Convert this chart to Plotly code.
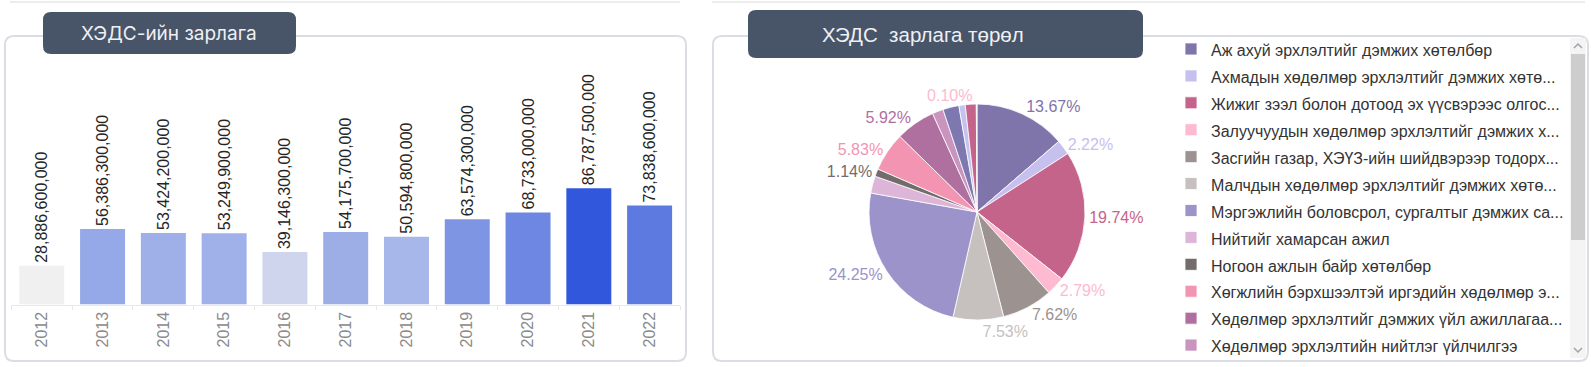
import plotly.graph_objects as go

# ---------------- data ----------------
years = ["2012", "2013", "2014", "2015", "2016", "2017", "2018", "2019", "2020", "2021", "2022"]
spend = [28886600000, 56386300000, 53424200000, 53249900000, 39146300000, 54175700000,
         50594800000, 63574300000, 68733000000, 86787500000, 73838600000]

types = [
    "Аж ахуй эрхлэлтийг дэмжих хөтөлбөр",
    "Ахмадын хөдөлмөр эрхлэлтийг дэмжих хөтө...",
    "Жижиг зээл болон дотоод эх үүсвэрээс олгос...",
    "Залуучуудын хөдөлмөр эрхлэлтийг дэмжих х...",
    "Засгийн газар, ХЭҮЗ-ийн шийдвэрээр тодорх...",
    "Малчдын хөдөлмөр эрхлэлтийг дэмжих хөтө...",
    "Мэргэжлийн боловсрол, сургалтыг дэмжих са...",
    "Нийтийг хамарсан ажил",
    "Ногоон ажлын байр хөтөлбөр",
    "Хөгжлийн бэрхшээлтэй иргэдийн хөдөлмөр э...",
    "Хөдөлмөр эрхлэлтийг дэмжих үйл ажиллагаа...",
    "Хөдөлмөр эрхлэлтийн нийтлэг үйлчилгээ",
    "Хөдөлмөрийн зах зээлийн мэдээлэл",
    "Хувиараа хөдөлмөр эрхлэгчдийг дэмжих",
    "Эмэгтэйчүүдийн хөдөлмөр эрхлэлтийг дэмжих",
    "Бусад",
]
shares = [13.67, 2.22, 19.74, 2.79, 7.62, 7.53, 24.25, 2.55, 1.14, 5.83, 5.92, 1.65, 2.40, 0.95, 1.64, 0.10]
show_label = [True, True, True, True, True, True, True, False, True, True, True, False, False, False, False, True]
pie_colors = ["#8075AB", "#C6C0EE", "#C5648A", "#FDBAD0", "#9C9391", "#C6C1BF", "#9B93C9", "#DDB5D8",
              "#746C6C", "#F394B2", "#B0709F", "#C995BE", "#7E78B0", "#C4C2F0", "#C5648A", "#FDBAD0"]

W, H = 1591, 367


def px_x(v):
    return v / W


def px_y(v):
    return 1 - v / H


def rrect(x0, y0, x1, y1, r):
    """rounded rectangle path in paper units from pixel coords"""
    X = px_x
    Y = px_y
    return (f"M{X(x0 + r)},{Y(y0)} L{X(x1 - r)},{Y(y0)} Q{X(x1)},{Y(y0)} {X(x1)},{Y(y0 + r)} "
            f"L{X(x1)},{Y(y1 - r)} Q{X(x1)},{Y(y1)} {X(x1 - r)},{Y(y1)} "
            f"L{X(x0 + r)},{Y(y1)} Q{X(x0)},{Y(y1)} {X(x0)},{Y(y1 - r)} "
            f"L{X(x0)},{Y(y0 + r)} Q{X(x0)},{Y(y0)} {X(x0 + r)},{Y(y0)} Z")


def chevron(cx, cy, up):
    d = -1 if up else 1
    return (f"M{px_x(cx - 4)},{px_y(cy - 2 * d)} L{px_x(cx)},{px_y(cy + 2 * d)} "
            f"L{px_x(cx + 4)},{px_y(cy - 2 * d)}")


fig = go.Figure()

# ---------------- bar chart ----------------
fig.add_trace(go.Bar(
    x=years, y=spend,
    marker=dict(color=spend, colorscale=[[0, "#F0F0F0"], [1, "#3158DC"]],
                cmin=min(spend), cmax=max(spend), line=dict(width=0)),
    texttemplate="%{y:,.0f}", textposition="outside", textangle=-90,
    textfont=dict(family="Liberation Sans, Arial", size=16, color="#252525"),
    constraintext="none", cliponaxis=False,
    showlegend=False, hoverinfo="x+y",
))

# ---------------- pie chart ----------------
pie_text = [f"<span style='color:{c}'>%{{percent:.2%}}</span>" if s else ""
            for s, c in zip(show_label, pie_colors)]
# only the last (scrolled-out) legend entry is widened, so the legend's own
# scrollbar falls outside the figure and the browser-like one below is shown
legend_labels = [f"<span style='font-size:16px'>{t}</span>" for t in types]
legend_labels[-1] = f"<span style='font-size:16px'>{types[-1]}{'&nbsp;' * 95}</span>"

fig.add_trace(go.Pie(
    labels=legend_labels,
    values=shares,
    sort=False, direction="clockwise", rotation=0,
    marker=dict(colors=pie_colors, line=dict(color="white", width=0.8)),
    texttemplate=pie_text,
    textposition="outside",
    outsidetextfont=dict(family="Liberation Sans, Arial", size=16, color="#FFFFFF"),
    domain=dict(x=[869 / W, 1085 / W], y=[1 - 320 / H, 1 - 104 / H]),
    automargin=False,
    hoverinfo="percent",
))

shapes = [
    # faint bottoms of upper panels
    dict(type="line", xref="paper", yref="paper", x0=px_x(10), x1=px_x(680), y0=px_y(2), y1=px_y(2),
         line=dict(color="#ECECEC", width=2)),
    dict(type="line", xref="paper", yref="paper", x0=px_x(712), x1=px_x(1585), y0=px_y(2), y1=px_y(2),
         line=dict(color="#ECECEC", width=2)),
    # panels
    dict(type="path", xref="paper", yref="paper", path=rrect(5, 36, 686, 361, 9),
         line=dict(color="#DADDE3", width=2), fillcolor="rgba(0,0,0,0)", layer="below"),
    dict(type="path", xref="paper", yref="paper", path=rrect(713, 36, 1588, 361, 9),
         line=dict(color="#DADDE3", width=2), fillcolor="rgba(0,0,0,0)", layer="below"),
    # title boxes
    dict(type="path", xref="paper", yref="paper", path=rrect(43, 12, 296, 54, 8),
         line=dict(width=0), fillcolor="#485468", layer="above"),
    dict(type="path", xref="paper", yref="paper", path=rrect(748, 10, 1143, 58, 8),
         line=dict(width=0), fillcolor="#485468", layer="above"),
    # legend scrollbar (track, thumb, arrows)
    dict(type="rect", xref="paper", yref="paper", x0=px_x(1570), x1=px_x(1586), y0=px_y(38), y1=px_y(358),
         line=dict(width=0), fillcolor="#F4F4F4", layer="above"),
    dict(type="rect", xref="paper", yref="paper", x0=px_x(1571), x1=px_x(1585), y0=px_y(54), y1=px_y(240),
         line=dict(width=0), fillcolor="#CDCDCD", layer="above"),
    dict(type="path", xref="paper", yref="paper", path=chevron(1578, 46, True),
         line=dict(color="#A3A3A3", width=1.5), layer="above"),
    dict(type="path", xref="paper", yref="paper", path=chevron(1578, 350, False),
         line=dict(color="#A3A3A3", width=1.5), layer="above"),
]

annotations = [
    dict(text="ХЭДС-ийн зарлага", xref="paper", yref="paper", x=px_x(169), y=px_y(33),
         xanchor="center", yanchor="middle", showarrow=False,
         font=dict(family="Inter, Roboto", size=19, color="#EEF0F4")),
    dict(text="ХЭДС&nbsp; зарлага төрөл", xref="paper", yref="paper", x=px_x(820), y=px_y(34),
         xanchor="left", yanchor="middle", showarrow=False,
         font=dict(family="Liberation Sans, Arial", size=20.5, color="#EEF0F4")),
]

fig.update_layout(
    width=W, height=H,
    margin=dict(l=0, r=0, t=0, b=0, autoexpand=False),
    paper_bgcolor="white", plot_bgcolor="white",
    bargap=0.26,
    xaxis=dict(domain=[11.4 / W, 680 / W], type="category", tickangle=-90, automargin=False,
               tickfont=dict(family="Liberation Sans, Arial", size=16, color="#8A8A8A"),
               showline=True, linecolor="#E8E8E8", linewidth=1,
               ticks="outside", tickson="boundaries", ticklen=4, tickcolor="#E8E8E8",
               showgrid=False, zeroline=False, fixedrange=True),
    yaxis=dict(domain=[1 - 304.5 / H, 0.9], range=[0, 199.9e9], visible=False, automargin=False,
               showgrid=False, zeroline=False, fixedrange=True),
    legend=dict(x=1171 / W, xanchor="left", y=px_y(30.5), yanchor="top",
                font=dict(family="Liberation Sans, Arial", size=18.4, color="#333333"),
                maxheight=328, bgcolor="rgba(0,0,0,0)"),
    shapes=shapes,
    annotations=annotations,
)

fig.write_html("out.html", config={"displayModeBar": False},
               post_script="document.body.style.margin='0px';document.body.style.overflow='hidden';")
